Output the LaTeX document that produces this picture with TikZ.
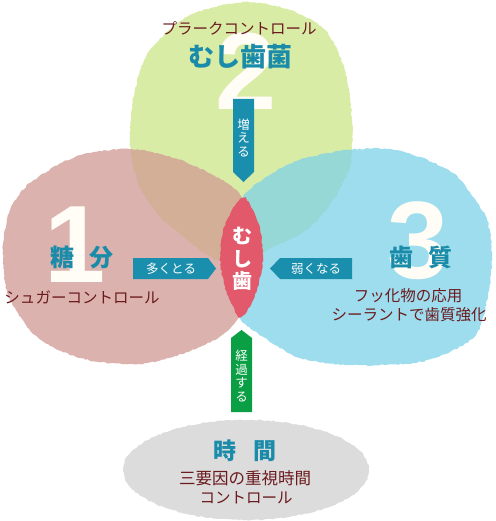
\documentclass[tikz,border=0pt]{standalone}
\usepackage{fontspec}
\setmainfont{Noto Sans CJK JP}
\newfontfamily\numfont{Liberation Sans}
\usetikzlibrary{decorations.pathmorphing}

\definecolor{plaquegreen}{HTML}{D9ECA6}
\definecolor{sugarpink}{HTML}{DBB2AD}
\definecolor{toothblue}{HTML}{9EDDED}
\definecolor{pinkgreen}{HTML}{D3AF98}
\definecolor{bluegreen}{HTML}{95D8D5}
\definecolor{cariesred}{HTML}{E2596B}
\definecolor{tagblue}{HTML}{1A8FAD}
\definecolor{taggreen}{HTML}{0A9F45}
\definecolor{timegray}{HTML}{DCDCDC}
\definecolor{titleblue}{HTML}{1A8CAA}
\definecolor{notered}{HTML}{6B1A1E}
\definecolor{numwhite}{HTML}{FFFDF5}

% blob outlines
\newcommand\greenblob{plot[smooth cycle] coordinates {(245,2) (290,10) (325,30) (345,70) (352,120) (350,165) (333,200) (307,230) (273,247) (243,262) (217,260) (187,240) (157,213) (137,180) (130,140) (135,90) (150,50) (190,15)}}
\newcommand\pinkblob{plot[smooth cycle] coordinates {(130,149) (185,162) (240,195) (252,257) (237,320) (200,347) (140,364) (80,358) (35,335) (8,295) (3,250) (10,210) (30,183) (75,157)}}
\newcommand\blueblob{plot[smooth cycle] coordinates {(243,197) (270,175) (300,160) (347,150) (390,149) (420,157) (453,173) (473,197) (487,220) (492,255) (488,295) (477,333) (450,352) (413,363) (350,365) (300,358) (268,340) (240,318) (234,280) (236,230)}}
\newcommand\redblob{plot[smooth cycle, tension=0.6] coordinates {(243,198) (253,210) (260,230) (263,258) (259,282) (252,302) (241,317) (231,303) (224,284) (220,258) (223,232) (231,212)}}

\begin{document}
\begin{tikzpicture}[
            x=1pt, y=-1pt,
            rough/.style={decorate, decoration={random steps, segment length=2.5pt, amplitude=0.7pt}},
            blobseed/.code={\pgfmathsetseed{#1}},
            bignum/.style={font=\numfont\bfseries\fontsize{110}{110}\selectfont, text=numwhite, inner sep=0pt},
            title/.style={font=\bfseries\fontsize{24}{24}\selectfont, text=titleblue, inner sep=0pt},
            note/.style={font=\fontsize{15.5}{20}\selectfont, text=notered, align=center, inner sep=0pt},
            tag/.style={font=\fontsize{12.5}{13.5}\selectfont, text=white, align=center, inner sep=0pt}
            ]
            \useasboundingbox (0,0) rectangle (495,521);

            % Circles
            \fill[plaquegreen, rough, blobseed=3] \greenblob;
            \fill[sugarpink, rough, blobseed=5] \pinkblob;
            \fill[toothblue, rough, blobseed=7] \blueblob;

            % Overlaps with the plaque circle
            \begin{scope}
                \clip[rough, blobseed=3] \greenblob;
                \fill[pinkgreen, rough, blobseed=5] \pinkblob;
                \fill[bluegreen, rough, blobseed=7] \blueblob;
            \end{scope}

            % Time ellipse
            \fill[timegray, rough, blobseed=9] (246,470) ellipse [x radius=123, y radius=50];

            % Big numbers
            \node[bignum] (two) at (246,71) {2};
            \node[bignum] (one) at (75,245) {1};
            \node[bignum] (three) at (418,241) {3};

            % Plaque
            \node[note] (plaque) at (239,28) {プラークコントロール};
            \node[title, font=\bfseries\fontsize{26}{26}\selectfont] (germs) at (240,57) {むし歯菌};

            % Sugar
            \node[title] (sugar) at (82,257) {糖\hspace{16pt}分};
            \node[note] (sugarctl) at (82,297) {シュガーコントロール};

            % Tooth
            \node[title] (tooth) at (421,257) {歯\hspace{15pt}質};
            \node[note] (fluoride) at (408,296) {フッ化物の応用};
            \node[note] (sealant) at (409,315) {シーラントで歯質強化};

            % Time
            \node[title, font=\bfseries\fontsize{23}{23}\selectfont] (time) at (245,451) {時\hspace{18pt}間};
            \node[note, font=\fontsize{16.5}{20}\selectfont] (timectl) at (245,478) {三要因の重視時間};
            \node[note] (timectl2) at (246,498) {コントロール};

            % Caries in the middle
            \fill[cariesred, rough, blobseed=11] \redblob;
            \node[font=\bfseries\fontsize{20}{22.5}\selectfont, text=white, align=center, inner sep=0pt] (caries) at (242,259) {む\\し\\歯};

            % Tags
            \fill[tagblue] (233,99) -- (254,99) -- (254,172) -- (243.5,182) -- (233,172) -- cycle;
            \node[tag] (increase) at (243.5,138) {増\\え\\る};
            \fill[tagblue] (133,258) -- (208,258) -- (216,268.5) -- (208,279) -- (133,279) -- cycle;
            \node[tag] (more) at (171,268.5) {多くとる};
            \fill[tagblue] (352,258) -- (280,258) -- (270,268.5) -- (280,279) -- (352,279) -- cycle;
            \node[tag] (weaker) at (316,268.5) {弱くなる};
            \fill[taggreen] (231,412) -- (231,338) -- (241.5,330) -- (252,338) -- (252,412) -- cycle;
            \node[tag] (elapse) at (241.5,376) {経\\過\\す\\る};

        \end{tikzpicture}
\end{document}
